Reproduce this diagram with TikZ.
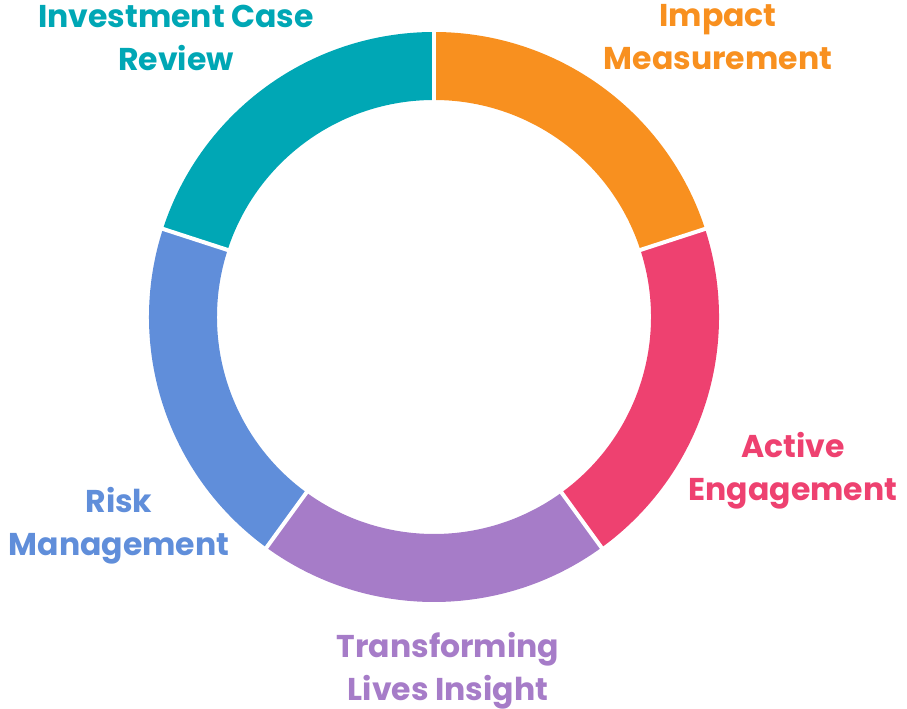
\documentclass[tikz,border=0pt]{standalone}
\usepackage{fontspec}
\setmainfont{Poppins}

\definecolor{impact}{HTML}{F8901F}
\definecolor{active}{HTML}{EE4170}
\definecolor{transform}{HTML}{A67CC8}
\definecolor{risk}{HTML}{608EDA}
\definecolor{review}{HTML}{00A7B5}

\tikzset{
    seglabel/.style={align=center, font=\bfseries\fontsize{31.5}{43}\selectfont}
}

\begin{document}
\begin{tikzpicture}[x=1pt, y=1pt]
    \useasboundingbox (0,0) rectangle (907,709);
    \coordinate (c) at (434,392);

    % Ring segments, 72 degrees each
    \foreach \a/\col [evaluate=\a as \b using \a+72] in
        {18/impact, -54/active, -126/transform, -198/risk, 90/review}
        \fill[\col] ([shift={(\a:285)}]c) arc[start angle=\a, end angle=\b, radius=285]
            -- ([shift={(\b:217)}]c) arc[start angle=\b, end angle=\a, radius=217] -- cycle;

    % White gaps between segments
    \foreach \a in {90, 18, -54, -126, 162}
        \draw[white, line width=4pt] ([shift={(\a:210)}]c) -- ([shift={(\a:292)}]c);

    % Labels
    \node[seglabel, review] (lreview) at (176,671) {Investment Case\\Review};
    \node[seglabel, impact] (limpact) at (718,672) {Impact\\Measurement};
    \node[seglabel, active] (lactive) at (793,238) {Active\\Engagement};
    \node[seglabel, risk] (lrisk) at (119,183) {Risk\\Management};
    \node[seglabel, transform] (ltransform) at (448,38) {Transforming\\Lives Insight};
\end{tikzpicture}
\end{document}
